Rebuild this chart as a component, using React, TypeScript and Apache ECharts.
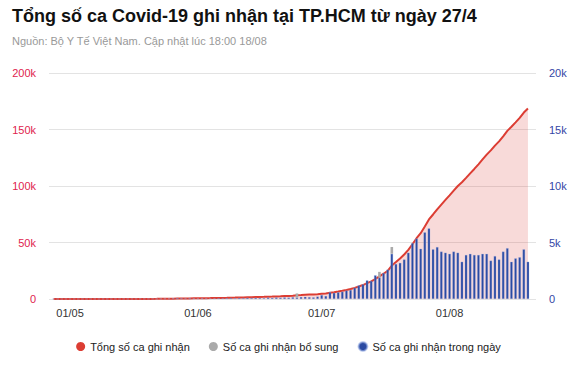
import React, { useEffect, useRef } from "react";
import * as echarts from "echarts";

const titleText = "Tổng số ca Covid-19 ghi nhận tại TP.HCM từ ngày 27/4";
const subtitleText = "Nguồn: Bộ Y Tế Việt Nam. Cập nhật lúc 18:00 18/08";

const seriesNames = ["Tổng số ca ghi nhận", "Số ca ghi nhận bổ sung", "Số ca ghi nhận trong ngày"];

const dates = [
  "27/04", "28/04", "29/04", "30/04",
  "01/05", "02/05", "03/05", "04/05", "05/05", "06/05", "07/05", "08/05", "09/05", "10/05",
  "11/05", "12/05", "13/05", "14/05", "15/05", "16/05", "17/05", "18/05", "19/05", "20/05",
  "21/05", "22/05", "23/05", "24/05", "25/05", "26/05", "27/05", "28/05", "29/05", "30/05", "31/05",
  "01/06", "02/06", "03/06", "04/06", "05/06", "06/06", "07/06", "08/06", "09/06", "10/06",
  "11/06", "12/06", "13/06", "14/06", "15/06", "16/06", "17/06", "18/06", "19/06", "20/06",
  "21/06", "22/06", "23/06", "24/06", "25/06", "26/06", "27/06", "28/06", "29/06", "30/06",
  "01/07", "02/07", "03/07", "04/07", "05/07", "06/07", "07/07", "08/07", "09/07", "10/07",
  "11/07", "12/07", "13/07", "14/07", "15/07", "16/07", "17/07", "18/07", "19/07", "20/07",
  "21/07", "22/07", "23/07", "24/07", "25/07", "26/07", "27/07", "28/07", "29/07", "30/07", "31/07",
  "01/08", "02/08", "03/08", "04/08", "05/08", "06/08", "07/08", "08/08", "09/08", "10/08",
  "11/08", "12/08", "13/08", "14/08", "15/08", "16/08", "17/08", "18/08", "19/08", "20/08",
];

// Cumulative cases (left axis)
const totalCases = [
  0, 0,
  0, 0, 0, 0, 2, 2, 5, 6, 10, 12, 17, 20, 22, 28, 32, 40, 45, 55, 62, 74, 83, 98, 109, 123, 143, 168,
  213, 273, 353, 418, 468, 538, 593, 638, 698,
  748, 788, 843, 913, 973, 1053, 1143, 1218, 1318, 1403, 1513, 1608, 1728, 1828, 1918, 2048, 2158,
  2298, 2418, 2568, 2698, 2858, 3348, 3528, 3728, 3898, 4048, 4268, 4618, 4888,
  5488, 6038, 6638, 7288, 8038, 8838, 9838, 11038, 12338, 13988, 15588, 17688, 20088, 22388, 24988,
  29588, 32688, 35888, 39388, 43488, 48438, 53788, 58238, 64138, 70388, 74788, 79388, 83588, 87688,
  91688, 95888, 99988, 103288, 107188, 111188, 115088, 119200, 123500, 127800, 131500, 135700,
  139500, 144000, 148800, 152400, 156300, 160300, 165000, 168500,
];

// Daily cases (right axis)
const dailyCases = [
  0, 0,
  0, 0, 0, 0, 2, 0, 3, 1, 4, 2, 5, 3, 2, 6, 4, 8, 5, 10, 7, 12, 9, 15, 11, 14, 20, 25, 45, 60, 80,
  65, 50, 70, 55, 45, 60,
  50, 40, 55, 70, 60, 80, 90, 75, 100, 85, 110, 95, 120, 100, 90, 130, 110, 140, 120, 150, 130, 160,
  140, 180, 200, 170, 150, 220, 350, 270,
  600, 550, 600, 650, 750, 800, 1000, 1200, 1300, 1650, 1600, 2100, 1900, 2300, 2600, 4000, 3100,
  3200, 3500, 4100, 4950, 5350, 4450, 5900, 6250, 4400, 4600, 4200, 4100, 4000, 4200, 4100, 3300,
  3900, 4000, 3900, 3900, 4000, 4000, 3400, 3800, 3500, 4200, 4500, 3300, 3600, 3700, 4400, 3300,
];

// Supplementary cases (stacked on daily)
const extraDates = ["25/06", "15/07", "18/07"];
const extraValues = [350, 500, 600];

const leftTicks = { min: 0, max: 200000, interval: 50000 };
const rightTicks = { min: 0, max: 20000, interval: 5000 };

const FONT = 'Arial, "Liberation Sans", sans-serif';

export default function App() {
  const ref = useRef<HTMLDivElement>(null);

  useEffect(() => {
    if (!ref.current) return;
    const chart = echarts.init(ref.current, undefined, { renderer: "svg" });
    const extraData = dates.map((d) => {
      const k = extraDates.indexOf(d);
      return k >= 0 ? extraValues[k] : 0;
    });
    const kFmt = (v: number) => (v === 0 ? "0" : v / 1000 + "k");

    chart.setOption({
      animation: false,
      backgroundColor: "#fff",
      textStyle: { fontFamily: FONT },
      title: [
        {
          text: titleText,
          left: 12,
          top: 7,
          padding: 0,
          textStyle: { fontSize: 18, fontWeight: "bold", color: "#111", fontFamily: FONT },
        },
        {
          text: subtitleText,
          left: 12,
          top: 35,
          padding: 0,
          textStyle: { fontSize: 11, fontWeight: "normal", color: "#999", fontFamily: FONT },
        },
      ],
      legend: {
        data: seriesNames,
        left: "center",
        top: 336,
        icon: "circle",
        itemWidth: 9,
        itemHeight: 9,
        itemGap: 19,
        textStyle: { fontSize: 11, color: "#222", fontFamily: FONT },
      },
      grid: [
        { left: 49, right: 41, top: 73, bottom: 66 },
        { left: 51.5, right: 47, top: 73, bottom: 66 },
      ],
      xAxis: [
        { gridIndex: 0, type: "value", show: false, min: 0, max: 1 },
        {
          gridIndex: 1,
          type: "category",
          data: dates,
          boundaryGap: true,
          axisLine: { show: false },
          axisTick: { show: false },
          axisLabel: {
            interval: (_i: number, v: string) => v.startsWith("01/"),
            color: "#333",
            fontSize: 11,
            margin: 8,
            fontFamily: FONT,
          },
          splitLine: { show: false },
        },
      ],
      yAxis: [
        {
          gridIndex: 0,
          type: "value",
          position: "left",
          ...leftTicks,
          axisLine: { show: false },
          axisTick: { show: false },
          axisLabel: { color: "#e0234e", fontSize: 11, margin: 13, formatter: kFmt, fontFamily: FONT },
          splitLine: { lineStyle: { color: "#e3e3e3", width: 1 } },
        },
        {
          gridIndex: 0,
          type: "value",
          position: "right",
          ...rightTicks,
          axisLine: { show: false },
          axisTick: { show: false },
          axisLabel: { color: "#3446a5", fontSize: 11, margin: 13, formatter: kFmt, fontFamily: FONT },
          splitLine: { show: false },
        },
        { gridIndex: 1, type: "value", ...leftTicks, show: false, splitLine: { show: false } },
        { gridIndex: 1, type: "value", ...rightTicks, show: false, splitLine: { show: false } },
      ],
      series: [
        {
          name: seriesNames[0],
          type: "line",
          xAxisIndex: 1,
          yAxisIndex: 2,
          data: totalCases,
          showSymbol: false,
          symbol: "circle",
          lineStyle: { color: "#dc3d33", width: 2 },
          itemStyle: { color: "#dc3d33" },
          areaStyle: { color: "rgba(220,61,51,0.27)" },
          z: 2,
        },
        {
          name: seriesNames[2],
          type: "bar",
          xAxisIndex: 1,
          yAxisIndex: 3,
          stack: "daily",
          data: dailyCases,
          barWidth: 2.6,
          itemStyle: { color: "#2b4aa2", borderColor: "rgba(160,180,230,0.6)", borderWidth: 0.5 },
          z: 3,
        },
        {
          name: seriesNames[1],
          type: "bar",
          xAxisIndex: 1,
          yAxisIndex: 3,
          stack: "daily",
          data: extraData,
          barWidth: 2.6,
          itemStyle: { color: "#aaaaaa" },
          z: 3,
        },
      ],
    });
    return () => chart.dispose();
  }, []);

  return (
    <div
      ref={ref}
      style={{ position: "fixed", left: 0, top: 0, width: 577, height: 365, background: "#fff" }}
    />
  );
}
